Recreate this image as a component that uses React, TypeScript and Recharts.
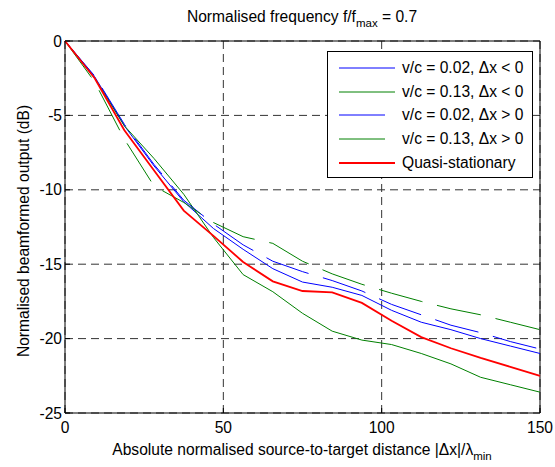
import React from 'react';
import { LineChart, Line, XAxis, YAxis, CartesianGrid, ReferenceLine, Legend, Label, Customized } from 'recharts';

const FONT = '"Liberation Sans", Arial, Helvetica, sans-serif';
const FS = 15.6;

// |dx| / lambda_min
const distance = [0, 9.375, 18.75, 28.125, 37.5, 46.875, 56.25, 65.625, 75, 84.375, 93.75, 103.125, 112.5, 121.875, 131.25, 140.625, 150];

// normalised beamformed output (dB)
const slowNeg = [0, -2.4, -5.7, -8.4, -10.8, -12.6, -14.0, -15.3, -16.2, -16.55, -17.1, -18.1, -18.9, -19.4, -20.0, -20.5, -21.0];
const fastNeg = [0, -2.5, -5.7, -7.9, -10.3, -13.2, -15.7, -16.85, -18.3, -19.5, -20.1, -20.4, -21.0, -21.7, -22.6, -23.1, -23.6];
const slowPos = [0, -2.35, -5.6, -8.3, -10.7, -12.3, -13.7, -14.8, -15.5, -16.1, -16.8, -17.7, -18.4, -19.1, -19.6, -20.2, -20.7];
const fastPos = [0, -2.75, -6.6, -9.75, -10.85, -12.2, -13.15, -13.6, -14.8, -15.65, -16.35, -16.95, -17.5, -18.0, -18.4, -18.9, -19.4];
const quasi = [0, -2.5, -6.0, -8.7, -11.4, -13.1, -14.85, -16.15, -16.8, -16.9, -17.6, -18.8, -19.9, -20.65, -21.3, -21.9, -22.5];

const xTicks = [0, 50, 100, 150];
const yTicks = [-25, -20, -15, -10, -5, 0];

const series = [
  { key: 'slowNeg', name: 'v/c = 0.02, \u0394x < 0', color: '#0000ff', width: 1, dash: '' },
  { key: 'fastNeg', name: 'v/c = 0.13, \u0394x < 0', color: '#008000', width: 1, dash: '' },
  { key: 'slowPos', name: 'v/c = 0.02, \u0394x > 0', color: '#0000ff', width: 1, dash: '45 15' },
  { key: 'fastPos', name: 'v/c = 0.13, \u0394x > 0', color: '#008000', width: 1, dash: '45 15' },
  { key: 'quasi', name: 'Quasi-stationary', color: '#ff0000', width: 1.8, dash: '' },
];

const data = distance.map((d, i) => ({
  d,
  slowNeg: slowNeg[i],
  fastNeg: fastNeg[i],
  slowPos: slowPos[i],
  fastPos: fastPos[i],
  quasi: quasi[i],
}));

const renderLegend = () => (
  <div
    style={{
      width: 204,
      border: '1px solid #000',
      background: '#fff',
      fontFamily: FONT,
      fontSize: FS,
      color: '#000',
      paddingTop: 4,
      paddingBottom: 2,
    }}
  >
    {series.map((s) => (
      <div key={s.key} style={{ display: 'flex', alignItems: 'center', height: 23.75 }}>
        <svg width={68} height={10} style={{ flex: 'none' }}>
          <line x1={11} x2={s.dash ? 57 : 67} y1={5} y2={5} stroke={s.color} strokeWidth={s.width} />
        </svg>
        <span style={{ marginLeft: 6, whiteSpace: 'nowrap' }}>{s.name}</span>
      </div>
    ))}
  </div>
);

const Title = () => (
  <text x={302} y={22} textAnchor="middle" fontFamily={FONT} fontSize={FS} fill="#000">
    Normalised frequency f/f
    <tspan fontSize={11.5} dy={5}>max</tspan>
    <tspan dy={-5}> = 0.7</tspan>
  </text>
);

const XTitle = () => (
  <text x={302} y={455} textAnchor="middle" fontFamily={FONT} fontSize={FS} fill="#000">
    Absolute normalised source-to-target distance |{'\u0394'}x|/{'\u03bb'}
    <tspan fontSize={11.5} dy={5}>min</tspan>
  </text>
);

const YTitle = () => (
  <text
    x={29}
    y={231}
    transform="rotate(-90, 29, 231)"
    textAnchor="middle"
    fontFamily={FONT}
    fontSize={FS}
    fill="#000"
  >
    Normalised beamformed output (dB)
  </text>
);

export default function App() {
  return (
    <div style={{ position: 'absolute', left: 0, top: 0, background: '#fff' }}>
      <LineChart width={555} height={467} data={data} margin={{ top: 41, right: 15, bottom: 0, left: 0 }}>
        <CartesianGrid stroke="#333" strokeDasharray="8 5" />
        <XAxis
          dataKey="d"
          type="number"
          domain={[0, 150]}
          ticks={xTicks}
          height={54}
          stroke="#000"
          tickSize={-5}
          tickMargin={14}
          tick={{ fill: '#000', fontSize: FS, fontFamily: FONT }}
        >
          <Label content={() => <XTitle />} />
        </XAxis>
        <YAxis
          type="number"
          domain={[-25, 0]}
          ticks={yTicks}
          width={65}
          stroke="#000"
          tickSize={-5}
          tickMargin={8}
          tick={{ fill: '#000', fontSize: FS, fontFamily: FONT }}
        >
          <Label content={() => <YTitle />} />
        </YAxis>
        <ReferenceLine y={0} stroke="#000" />
        <ReferenceLine x={150} stroke="#000" />
        {series.map((s) => (
          <Line
            key={s.key}
            dataKey={s.key}
            name={s.name}
            stroke={s.color}
            strokeWidth={s.width}
            strokeDasharray={s.dash || undefined}
            dot={false}
            activeDot={false}
            isAnimationActive={false}
          />
        ))}
        <Legend
          layout="vertical"
          align="center"
          verticalAlign="middle"
          content={renderLegend}
          wrapperStyle={{ left: 327, top: 51, width: 206 }}
        />
        <Customized component={Title} />
      </LineChart>
    </div>
  );
}
